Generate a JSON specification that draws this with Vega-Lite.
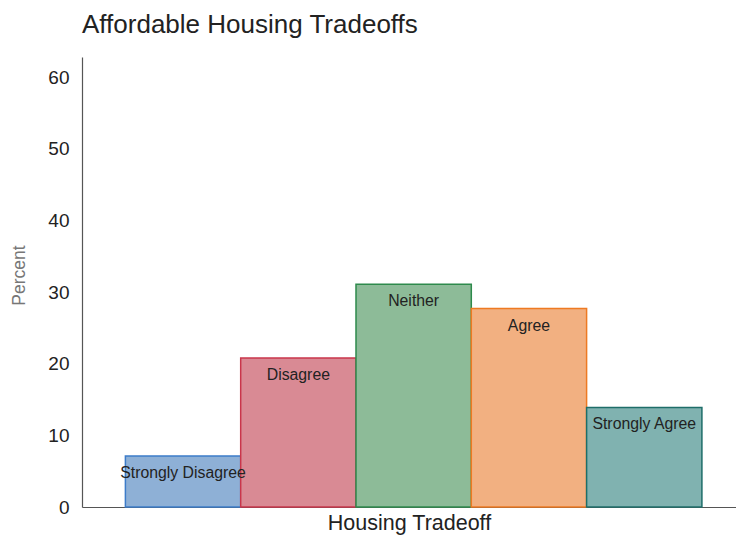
{
  "$schema": "https://vega.github.io/schema/vega-lite/v6.json",
  "autosize": {"type": "none"},
  "padding": {"left": 82, "top": 57, "right": 0, "bottom": 28},
  "width": 654,
  "height": 450,
  "background": "white",
  "config": {
    "font": "Liberation Sans",
    "view": {"stroke": null},
    "title": {"fontSize": 26, "fontWeight": "normal", "color": "#222222", "anchor": "start", "frame": "group", "offset": 19, "font": "Liberation Sans"}
  },
  "title": "Affordable Housing Tradeoffs",
  "data": {
    "values": [
      {"response": "Strongly Disagree", "percent": 7.1},
      {"response": "Disagree", "percent": 20.8},
      {"response": "Neither", "percent": 31.1},
      {"response": "Agree", "percent": 27.7},
      {"response": "Strongly Agree", "percent": 13.9}
    ]
  },
  "encoding": {
    "x": {
      "field": "response",
      "type": "nominal",
      "sort": ["Strongly Disagree", "Disagree", "Neither", "Agree", "Strongly Agree"],
      "scale": {"paddingInner": 0, "paddingOuter": 0.336, "align": 0.56},
      "axis": {
        "title": "Housing Tradeoff",
        "titleFontSize": 21.5,
        "titleFontWeight": "normal",
        "titleColor": "#222222",
        "titlePadding": 5,
        "labels": false,
        "ticks": false,
        "domainColor": "#555555",
        "domainWidth": 1.2
      }
    },
    "y": {
      "field": "percent",
      "type": "quantitative",
      "scale": {"domain": [0, 62.8], "nice": false},
      "axis": {
        "title": "Percent",
        "titleFontSize": 17.5,
        "titleFontWeight": "normal",
        "titleColor": "#777777",
        "titleX": -54,
        "titleY": 218,
        "values": [0, 10, 20, 30, 40, 50, 60],
        "grid": false,
        "ticks": false,
        "labelFontSize": 19,
        "labelColor": "#222222",
        "labelPadding": 13,
        "domainColor": "#555555",
        "domainWidth": 1.2
      }
    }
  },
  "layer": [
    {
      "mark": {"type": "bar", "strokeWidth": 1.5},
      "encoding": {
        "fill": {
          "field": "response",
          "type": "nominal",
          "scale": {
            "domain": ["Strongly Disagree", "Disagree", "Neither", "Agree", "Strongly Agree"],
            "range": ["#8eb0d6", "#d98a94", "#8dbb98", "#f2b081", "#80b2b0"]
          },
          "legend": null
        },
        "stroke": {
          "field": "response",
          "type": "nominal",
          "scale": {
            "domain": ["Strongly Disagree", "Disagree", "Neither", "Agree", "Strongly Agree"],
            "range": ["#3d7cc9", "#c9364b", "#2e8a4c", "#ee7a22", "#1e6e69"]
          },
          "legend": null
        }
      }
    },
    {
      "mark": {"type": "text", "baseline": "middle", "dy": 17, "fontSize": 15.8, "color": "#222222"},
      "encoding": {
        "text": {"field": "response"}
      }
    }
  ]
}
